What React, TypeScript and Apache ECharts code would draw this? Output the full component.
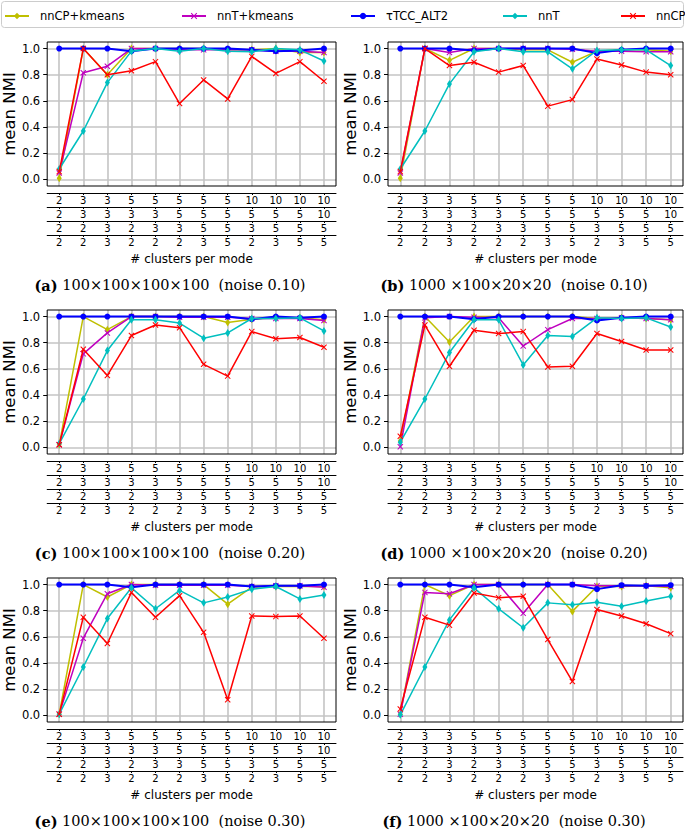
import React, { useEffect, useRef } from "react";
import * as echarts from "echarts";

// tick label rows (# clusters per mode)
const ROW1 = [2, 3, 3, 5, 5, 5, 5, 5, 10, 10, 10, 10];
const ROW2 = [2, 3, 3, 3, 3, 5, 5, 5, 5, 5, 5, 10];
const ROW3 = [2, 2, 3, 2, 3, 3, 5, 5, 3, 5, 5, 5];
const ROW4 = [2, 2, 3, 2, 2, 2, 3, 5, 2, 3, 5, 5];
const ROWS = [ROW1, ROW2, ROW3, ROW4];
const Y_TICKS = [0, 0.2, 0.4, 0.6, 0.8, 1.0];

const SERIES_NAMES = ["nnCP+kmeans", "nnT+kmeans", "τTCC_ALT2", "nnT", "nnCP"];

// (a) 100x100x100x100 noise 0.10
const A_NNCP_KM = [0.01, 1.0, 0.8, 1.0, 1.0, 1.0, 1.0, 0.99, 0.99, 1.0, 0.97, 0.97];
const A_NNT_KM = [0.05, 0.815, 0.865, 1.0, 1.0, 0.99, 0.99, 0.99, 0.99, 0.98, 0.98, 0.97];
const A_TCC = [1.0, 1.0, 1.0, 0.98, 1.0, 1.0, 1.0, 1.0, 0.99, 0.98, 0.985, 1.0];
const A_NNT = [0.08, 0.37, 0.74, 0.98, 1.0, 0.98, 1.0, 0.98, 0.975, 1.0, 0.99, 0.905];
const A_NNCP = [0.06, 1.0, 0.8, 0.83, 0.9, 0.58, 0.76, 0.615, 0.94, 0.81, 0.9, 0.75];

// (b) 1000x100x20x20 noise 0.10
const B_NNCP_KM = [0.01, 1.0, 0.91, 1.0, 1.0, 0.99, 0.99, 0.895, 0.98, 0.99, 0.99, 0.98];
const B_NNT_KM = [0.05, 1.0, 0.97, 1.0, 1.0, 1.0, 1.0, 0.995, 0.98, 0.98, 0.975, 0.975];
const B_TCC = [1.0, 1.0, 1.0, 0.985, 1.0, 1.0, 1.0, 1.0, 0.965, 0.99, 1.0, 1.0];
const B_NNT = [0.08, 0.37, 0.73, 0.975, 1.0, 0.975, 0.975, 0.845, 0.985, 0.99, 0.99, 0.87];
const B_NNCP = [0.06, 1.0, 0.87, 0.895, 0.82, 0.87, 0.56, 0.61, 0.92, 0.875, 0.82, 0.8];

// (c) 100x100x100x100 noise 0.20
const C_NNCP_KM = [0.02, 1.0, 0.9, 1.0, 1.0, 1.0, 1.0, 0.955, 0.98, 0.99, 0.99, 0.975];
const C_NNT_KM = [0.02, 0.715, 0.875, 1.0, 1.0, 0.995, 0.995, 0.995, 0.985, 0.985, 0.985, 0.97];
const C_TCC = [1.0, 1.0, 1.0, 1.0, 1.0, 1.0, 1.0, 1.0, 0.98, 1.0, 0.99, 1.0];
const C_NNT = [0.03, 0.37, 0.74, 0.975, 0.975, 0.95, 0.835, 0.875, 0.985, 0.985, 0.99, 0.89];
const C_NNCP = [0.02, 0.75, 0.55, 0.855, 0.935, 0.915, 0.635, 0.545, 0.885, 0.83, 0.84, 0.765];

// (d) 1000x100x20x20 noise 0.20
const D_NNCP_KM = [0.05, 1.0, 0.805, 1.0, 1.0, 1.0, 1.0, 1.0, 0.985, 0.99, 0.985, 0.975];
const D_NNT_KM = [0.005, 0.99, 1.0, 0.995, 0.99, 0.775, 0.9, 0.985, 0.985, 0.99, 0.985, 0.975];
const D_TCC = [1.0, 1.0, 1.0, 0.98, 1.0, 1.0, 1.0, 1.0, 0.97, 0.99, 1.0, 1.0];
const D_NNT = [0.04, 0.37, 0.725, 0.975, 0.975, 0.63, 0.855, 0.848, 0.99, 0.985, 0.99, 0.92];
const D_NNCP = [0.085, 0.935, 0.62, 0.895, 0.87, 0.885, 0.615, 0.62, 0.87, 0.81, 0.745, 0.745];

// (e) 100x100x100x100 noise 0.30
const E_NNCP_KM = [0.01, 1.0, 0.905, 1.0, 1.0, 1.0, 1.0, 0.85, 0.98, 0.985, 0.985, 0.985];
const E_NNT_KM = [0.01, 0.59, 0.93, 1.0, 0.995, 0.995, 0.995, 0.995, 0.985, 0.99, 0.99, 0.98];
const E_TCC = [1.0, 1.0, 1.0, 0.98, 1.0, 1.0, 1.0, 1.0, 0.985, 0.99, 0.99, 1.0];
const E_NNT = [0.01, 0.37, 0.74, 0.975, 0.815, 0.955, 0.86, 0.905, 0.965, 0.985, 0.89, 0.92];
const E_NNCP = [0.01, 0.75, 0.55, 0.94, 0.75, 0.915, 0.635, 0.12, 0.76, 0.755, 0.76, 0.59];

// (f) 1000x100x20x20 noise 0.30
const F_NNCP_KM = [0.01, 1.0, 0.915, 1.0, 1.0, 1.0, 1.0, 0.795, 0.985, 0.985, 0.99, 0.975];
const F_NNT_KM = [0.01, 0.94, 0.93, 1.0, 1.0, 0.78, 1.0, 1.0, 0.99, 0.99, 0.99, 0.985];
const F_TCC = [1.0, 1.0, 1.0, 0.98, 1.0, 1.0, 1.0, 1.0, 0.965, 0.995, 0.99, 0.995];
const F_NNT = [0.005, 0.37, 0.73, 0.975, 0.815, 0.67, 0.86, 0.845, 0.865, 0.835, 0.875, 0.91];
const F_NNCP = [0.05, 0.75, 0.69, 0.935, 0.9, 0.91, 0.58, 0.26, 0.81, 0.76, 0.7, 0.625];

const PANEL_LABELS = ["(a)", "(b)", "(c)", "(d)", "(e)", "(f)"];
const PANEL_TITLES = [
  "100×100×100×100  (noise 0.10)",
  "1000 ×100×20×20  (noise 0.10)",
  "100×100×100×100  (noise 0.20)",
  "1000 ×100×20×20  (noise 0.20)",
  "100×100×100×100  (noise 0.30)",
  "1000 ×100×20×20  (noise 0.30)",
];
const PANEL_DATA = [
  [A_NNCP_KM, A_NNT_KM, A_TCC, A_NNT, A_NNCP],
  [B_NNCP_KM, B_NNT_KM, B_TCC, B_NNT, B_NNCP],
  [C_NNCP_KM, C_NNT_KM, C_TCC, C_NNT, C_NNCP],
  [D_NNCP_KM, D_NNT_KM, D_TCC, D_NNT, D_NNCP],
  [E_NNCP_KM, E_NNT_KM, E_TCC, E_NNT, E_NNCP],
  [F_NNCP_KM, F_NNT_KM, F_TCC, F_NNT, F_NNCP],
];

const COLORS = ["#bfbf00", "#bf00bf", "#0000ff", "#00bfbf", "#ff0000"];
const X_SYMBOL =
  "path://M0,1.2L1.2,0L5,3.8L8.8,0L10,1.2L6.2,5L10,8.8L8.8,10L5,6.2L1.2,10L0,8.8L3.8,5Z";
const THIN_DIAMOND = "path://M3,0L6,5L3,10L0,5Z";
const SYMBOLS = [THIN_DIAMOND, X_SYMBOL, "circle", THIN_DIAMOND, X_SYMBOL];
const SYMBOL_SIZES: any[] = [[5, 8], 6, 6, [5, 8], 6];
const LINE_WIDTHS = [1.5, 1.5, 2, 1.5, 1.5];

const FONT = "DejaVu Sans";
const SERIF = "DejaVu Serif";

const COL_LEFT = [41, 388];
const ROW_TOP = [42, 310, 578];
const GRID_W = 295;
const GRID_H = 144;
const ROW_OFFSETS = [7, 21, 35, 49];
const CAPTION_X = [170, 514];
const LEGEND_LEFT = [4, 181, 350, 502, 620];

const IDX = Array.from({ length: 12 }, (_, i) => i);

export default function App() {
  const ref = useRef<HTMLDivElement>(null);
  useEffect(() => {
    if (!ref.current) return;
    const chart = echarts.init(ref.current, undefined, { renderer: "svg" });

    const grids: any[] = [];
    const xAxes: any[] = [];
    const yAxes: any[] = [];
    const series: any[] = [];
    const graphics: any[] = [
      {
        type: "rect",
        z: 0,
        shape: { x: 1.5, y: 1.5, width: 682, height: 26, r: 3 },
        style: { fill: "#fff", stroke: "#cccccc", lineWidth: 1 },
      },
    ];

    for (let p = 0; p < 6; p++) {
      const col = p % 2;
      const row = Math.floor(p / 2);
      const left = COL_LEFT[col];
      const top = ROW_TOP[row];
      grids.push({
        left,
        top,
        width: GRID_W,
        height: GRID_H,
        show: true,
        borderColor: "#000",
        borderWidth: 1,
        backgroundColor: "transparent",
        z: 3,
      });
      // main x axis (grid lines only)
      xAxes.push({
        type: "value",
        gridIndex: p,
        min: -0.5,
        max: 11.5,
        axisLine: { show: false, onZero: false },
        axisTick: { show: false, customValues: IDX },
        axisLabel: { show: false, customValues: IDX },
        splitLine: { show: true, lineStyle: { color: "#c4c4c4", width: 1.6 } },
      });
      ROWS.forEach((r, ri) => {
        xAxes.push({
          type: "value",
          gridIndex: p,
          position: "bottom",
          offset: ROW_OFFSETS[ri],
          min: -0.5,
          max: 11.5,
          axisLine: { show: true, onZero: false, lineStyle: { color: "#000", width: 1 } },
          axisTick: { show: true, customValues: IDX, length: 2, lineStyle: { color: "#000" } },
          axisLabel: {
            customValues: IDX,
            formatter: (v: number) => String(r[Math.round(v)]),
            margin: 2,
            fontSize: 10,
            fontFamily: FONT,
            color: "#000",
          },
          splitLine: { show: false },
          name: ri === 3 ? "# clusters per mode" : "",
          nameLocation: "middle",
          nameGap: 18,
          nameTextStyle: { fontSize: 12, fontFamily: FONT, color: "#000" },
        });
      });
      yAxes.push({
        type: "value",
        gridIndex: p,
        min: -0.05,
        max: 1.05,
        axisLine: { show: false, onZero: false },
        axisTick: { show: true, customValues: Y_TICKS, length: 4, lineStyle: { color: "#000" } },
        axisLabel: {
          customValues: Y_TICKS,
          formatter: (v: number) => v.toFixed(1),
          margin: 7,
          fontSize: 11.5,
          fontFamily: FONT,
          color: "#000",
        },
        splitLine: { show: true, lineStyle: { color: "#c4c4c4", width: 1.6 } },
        name: "mean NMI",
        nameLocation: "middle",
        nameGap: 21,
        nameTextStyle: { fontSize: 16.5, fontFamily: FONT, color: "#000" },
      });
      PANEL_DATA[p].forEach((arr, si) => {
        series.push({
          type: "line",
          name: SERIES_NAMES[si],
          xAxisIndex: p * 5,
          yAxisIndex: p,
          data: arr.map((v, i) => [i, v]),
          symbol: SYMBOLS[si],
          symbolSize: SYMBOL_SIZES[si],
          showSymbol: true,
          clip: false,
          z: 5 + si,
          lineStyle: { color: COLORS[si], width: LINE_WIDTHS[si] },
          itemStyle: { color: COLORS[si] },
        });
      });
      graphics.push({
        type: "text",
        x: CAPTION_X[col],
        y: top + GRID_H + 99,
        style: {
          text: "{b|" + PANEL_LABELS[p] + "} " + PANEL_TITLES[p],
          rich: { b: { fontWeight: "bold", fontFamily: SERIF, fontSize: 14.5, fill: "#000" } },
          fontFamily: SERIF,
          fontSize: 14.5,
          fill: "#000",
          align: "center",
          verticalAlign: "middle",
        },
      });
    }

    const legends = SERIES_NAMES.map((n, i) => ({
      data: [n],
      left: LEGEND_LEFT[i],
      top: 10,
      padding: 0,
      itemWidth: 24,
      itemHeight: 8,
      formatter: (name: string) => "{t|" + name + "}",
      textStyle: {
        fontSize: 11.5,
        fontFamily: FONT,
        color: "#000",
        rich: { t: { fontSize: 11.5, fontFamily: FONT, color: "#000", padding: [0, 0, 0, 6] } },
      },
      z: 10,
    }));

    chart.setOption({
      animation: false,
      backgroundColor: "#fff",
      textStyle: { fontFamily: FONT },
      legend: legends,
      grid: grids,
      xAxis: xAxes,
      yAxis: yAxes,
      series,
      graphic: graphics,
    });
    return () => chart.dispose();
  }, []);
  return (
    <div
      ref={ref}
      style={{ position: "fixed", left: 0, top: 0, width: 685, height: 840 }}
    />
  );
}
